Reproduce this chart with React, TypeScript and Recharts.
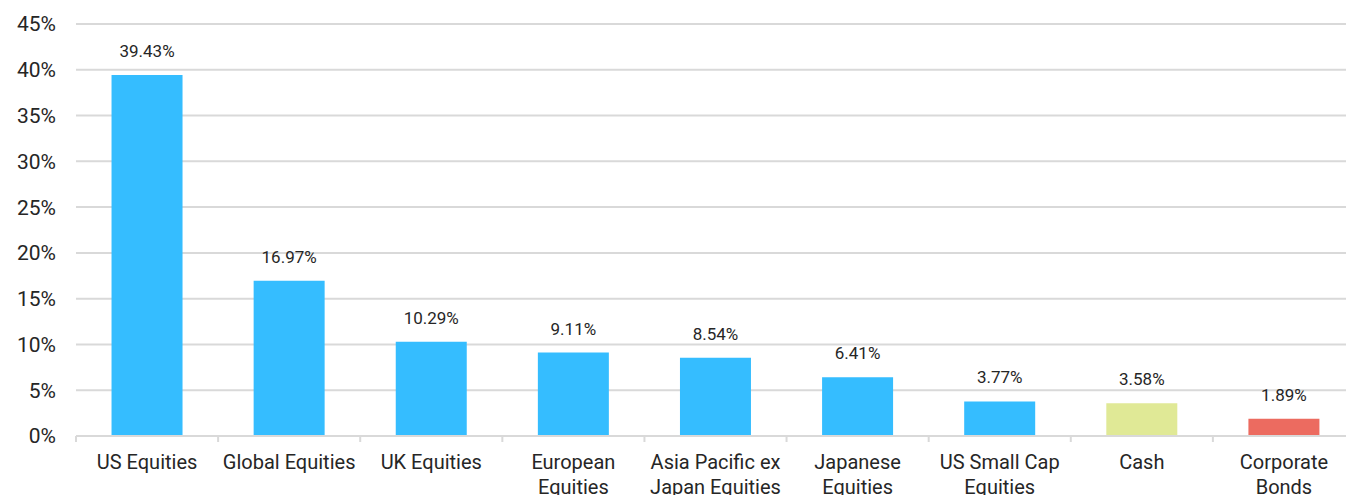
import { BarChart, Bar, XAxis, YAxis, CartesianGrid, Cell, LabelList } from 'recharts';

// Asset allocation, % of portfolio
const categories = [
  'US Equities',
  'Global Equities',
  'UK Equities',
  'European\nEquities',
  'Asia Pacific ex\nJapan Equities',
  'Japanese\nEquities',
  'US Small Cap\nEquities',
  'Cash',
  'Corporate\nBonds',
];
const weights = [39.43, 16.97, 10.29, 9.11, 8.54, 6.41, 3.77, 3.58, 1.89];
const barColors = [
  '#35bdff', '#35bdff', '#35bdff', '#35bdff', '#35bdff',
  '#35bdff', '#35bdff', '#e0e996', '#ec6b60',
];
const yTicks = [0, 5, 10, 15, 20, 25, 30, 35, 40, 45];

const data = categories.map((name, i) => ({ name, value: weights[i], color: barColors[i] }));

const WIDTH = 1360;
const HEIGHT = 495;
const MARGIN = { top: 24, right: 5, left: 0, bottom: 0 };
const Y_WIDTH = 76;
const BAND = (WIDTH - MARGIN.right - Y_WIDTH) / categories.length;
const FONT = 'Roboto, "Noto Sans", sans-serif';
const TEXT = '#262626';
const GRID = '#d9d9d9';

function CategoryTick(props: any) {
  const { x, y, payload } = props;
  const lines = String(payload.value).split('\n');
  const left = x - BAND / 2;
  return (
    <g>
      <line x1={left} y1={y - 8} x2={left} y2={y - 2} stroke={GRID} strokeWidth={2} />
      <text x={x} y={y} textAnchor="middle" fill={TEXT} fontSize={20} fontFamily={FONT}>
        {lines.map((l, i) => (
          <tspan key={i} x={x} dy={25}>
            {l}
          </tspan>
        ))}
      </text>
    </g>
  );
}

export default function App() {
  return (
    <div style={{ position: 'absolute', left: 0, top: 0, width: 1346, height: HEIGHT, overflow: 'hidden', background: '#fff' }}>
      <BarChart width={WIDTH} height={HEIGHT} data={data} margin={MARGIN} barCategoryGap="25%">
        <CartesianGrid vertical={false} stroke={GRID} strokeWidth={2} />
        <XAxis
          dataKey="name"
          interval={0}
          height={59}
          axisLine={{ stroke: GRID, strokeWidth: 2 }}
          tickLine={false}
          tick={<CategoryTick />}
        />
        <YAxis
          width={Y_WIDTH}
          domain={[0, 45]}
          ticks={yTicks}
          tickFormatter={(v: number) => `${v}%`}
          axisLine={false}
          tickLine={false}
          tickSize={0}
          tickMargin={20}
          tick={{ fill: TEXT, fontSize: 21, fontFamily: FONT }}
        />
        <Bar dataKey="value" isAnimationActive={false}>
          {data.map((d, i) => (
            <Cell key={i} fill={d.color} />
          ))}
          <LabelList
            dataKey="value"
            position="top"
            offset={18}
            formatter={(v: any) => `${Number(v).toFixed(2)}%`}
            style={{ fill: TEXT, fontSize: 17, fontFamily: FONT }}
          />
        </Bar>
      </BarChart>
    </div>
  );
}
